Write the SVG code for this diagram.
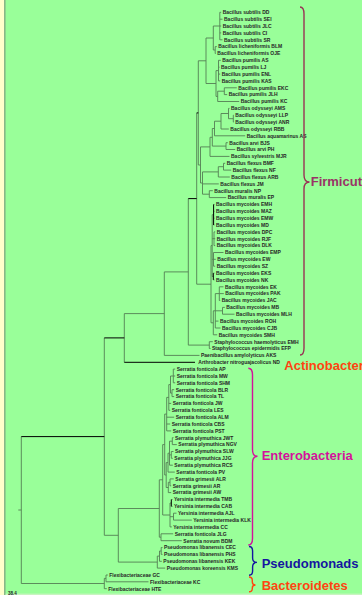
<svg xmlns="http://www.w3.org/2000/svg" width="362" height="595" viewBox="0 0 362 595">
<style>
.br{fill:none;stroke:#557f55;stroke-width:0.9}
.bk{fill:none;stroke:#000;stroke-width:1}
.lf{font-family:"Liberation Sans",Arial,sans-serif;font-weight:bold;font-size:5px;fill:#262626}
.cl{font-family:"Liberation Sans",Arial,sans-serif;font-weight:bold;font-size:13px}
.brace{fill:none;stroke-width:1.4}
</style>
<rect x="0" y="0" width="362" height="595" fill="#99ff99"/>
<rect x="0" y="0" width="4" height="595" fill="#ffffcc"/>
<rect x="4" y="0" width="1.6" height="595" fill="#88b888"/>
<rect x="5.6" y="593.6" width="356.4" height="1.4" fill="#c8f5c0"/>
<g id="connectors">
<path class="br" d="M21.3,436.6V583.5M18.3,510H21.3M21.3,583.5H104.3
M104.3,578.4V588.7M104.3,578.4H106M104.3,588.7H106.8
M106,575V581.8M106,575H107.8M106,581.8H148.5
M104.3,337.9V535.3M104.3,535.3H118.3
M124.3,313.6V362.3M124.3,313.6H164.3
M164.3,271.9V355.4M164.3,355.4H199.5M164.3,271.9H188.3
M188.3,198.6V345.1M188.3,345.1H209.3
M209.3,341.7V348.5M209.3,341.7H212.8M209.3,348.5H210.5
M196.7,112.9V284.2M196.7,284.2H211
M198.3,60.8V165M198.3,60.8H206M198.3,165H200.5
M206,38V83.5M206,38H213.3M206,83.5H216
M213.3,26V50M213.3,26H219.8M213.3,50H215.2
M219.8,12.3V39.8M219.8,12.3H221.2M219.8,19.2H222.5M219.8,26H221.2M219.8,32.9H221.2M219.8,39.8H222.5
M215.2,46.6V53.5M215.2,46.6H216.8M215.2,53.5H215.8
M216,70.6V96.4M216,70.6H218.5M216,96.4H217.7
M218.5,60.3V80.9M218.5,60.3H220.8M218.5,67.2H219.5M218.5,74.1H220.2M218.5,80.9H220.2
M217.7,91.2V101.5M217.7,91.2H224.3M217.7,101.5H239.2
M224.3,87.8V94.6M224.3,87.8H236.8M224.3,94.6H227.2
M200.5,146.9V183M200.5,146.9H210M200.5,183H202.5
M210,137.3V156.4M210,137.3H212.3M210,156.4H229.5
M212.3,128.5V146.1M212.3,128.5H214.5M212.3,146.1H226
M214.5,121.2V135.8M214.5,121.2H221M214.5,135.8H245.2
M221,113.5V129M221,113.5H228.5M221,129H228.8
M228.5,108.4V118.7M228.5,108.4H229.5M228.5,118.7H233.3
M233.3,115.2V122.1M233.3,115.2H233.8M233.3,122.1H233.8
M226,142.7V149.5M226,142.7H227.8M226,149.5H235.2
M202.5,171.9V194.2M202.5,171.9H218.3M202.5,183.9H218.8M202.5,194.2H209.3
M218.3,166.7V177M218.3,166.7H223.5M218.3,177H229.8
M223.5,163.3V170.1M223.5,163.3H225.2M223.5,170.1H231.2
M209.3,190.7V197.6M209.3,190.7H212.8M209.3,197.6H226.2
M211,245.6V322.8M211,245.6H212.2M211,322.8H213.3
M212.2,214.7V276.5M212.2,214.7H213.6M212.2,238.7H214M212.2,259.3H213.5M212.2,276.5H213.3
M213.6,204.4H214.5M213.6,211.3H214.5M213.6,218.2H214.5M213.6,225H214.5
M214,231.9V245.6M214,231.9H215.2M214,238.7H215.2M214,245.6H215.2
M213.5,252.5V266.2M213.5,252.5H223.5M213.5,259.3H215.8M213.5,266.2H215.2
M213.3,273.1H214.5M213.3,279.9H214.5
M213.3,310.8V334.8M213.3,310.8H215.3M213.3,334.8H217.2
M215.3,293.6V328M215.3,293.6H219.3M215.3,310.8H222.5M215.3,321.1H218.5M215.3,328H220.5
M219.3,286.8V300.5M219.3,286.8H223.5M219.3,293.6H223.8M219.3,300.5H220.2
M222.5,307.4V314.2M222.5,307.4H224.8M222.5,314.2H234.5
M118.3,508.5V562.1M118.3,508.5H159.3M118.3,562.1H157.3
M159.3,479.8V537.2M159.3,479.8H162.7M159.3,537.2H161
M161,533.8V540.7M161,533.8H173.2M161,540.7H181.8
M162.7,444.6V515M162.7,444.6H164.7M162.7,515H170
M164.7,414.1V475M164.7,414.1H166.7M164.7,475H166.2
M166.7,397.4V430.9M166.7,397.4H168.8M166.7,417.2H174.2M166.7,424H170.2M166.7,430.9H171.2
M168.8,384.6V410.3M168.8,384.6H170.5M168.8,403.4H171.2M168.8,410.3H170.2
M170.5,376V393.1M170.5,376H173.3M170.5,393.1H172
M173.3,369.1V382.8M173.3,369.1H175.2M173.3,376H175.2M173.3,382.8H175.2
M172,389.7V396.6M172,389.7H174.2M172,396.6H174.2
M166.2,462.6V487.5M166.2,462.6H168M166.2,487.5H168.3
M168,453.2V472.1M168,453.2H169.5M168,472.1H174.8
M169.5,441.2V465.2M169.5,441.2H172.3M169.5,454.9H171.3M169.5,465.2H172.8
M172.3,437.7V444.6M172.3,437.7H173.5M172.3,444.6H176.8
M171.3,451.5V458.3M171.3,451.5H173.5M171.3,458.3H172.8
M168.3,482.3V492.6M168.3,482.3H170M168.3,492.6H171.2
M170,478.9V485.8M170,478.9H173.8M170,485.8H171.2
M170,503V526.9M170,503H171.3M170,516.7H173.5M170,526.9H171.8
M171.3,499.5H172.5M171.3,506.4H172.5
M173.5,513.2V520.1M173.5,513.2H176.5M173.5,520.1H191.8
M157.3,556.1V568.1M157.3,556.1H159.5M157.3,568.1H165.2
M159.5,551V561.3M159.5,551H161.2M159.5,561.3H161.8
M161.2,547.5V554.4M161.2,547.5H162.5M161.2,554.4H162.5"/>
<path class="bk" d="M21.3,436.6H104.3M104.3,337.9H124.3M124.3,362.3H195M188.3,198.6H196.7M196.7,112.9H198.3M213.6,204.4V225M213.3,273.1V279.9M171.3,499.5V506.4"/>
</g>
<g id="leaves">
<g id="n1"><text class="lf" x="222.7" y="14.1">Bacillus subtilis DD</text></g>
<g id="n2"><text class="lf" x="224" y="21">Bacillus subtilis SEI</text></g>
<g id="n3"><text class="lf" x="222.7" y="27.8">Bacillus subtilis JLC</text></g>
<g id="n4"><text class="lf" x="222.7" y="34.7">Bacillus subtilis CI</text></g>
<g id="n5"><text class="lf" x="224" y="41.6">Bacillus subtilis SR</text></g>
<g id="n6"><text class="lf" x="218.3" y="48.4">Bacillus licheniformis BLM</text></g>
<g id="n7"><text class="lf" x="217.3" y="55.3">Bacillus licheniformis OJE</text></g>
<g id="n8"><text class="lf" x="222.3" y="62.1">Bacillus pumilis AS</text></g>
<g id="n9"><text class="lf" x="221" y="69">Bacillus pumilis LJ</text></g>
<g id="n10"><text class="lf" x="221.7" y="75.9">Bacillus pumilis ENL</text></g>
<g id="n11"><text class="lf" x="221.7" y="82.7">Bacillus pumilis KAS</text></g>
<g id="n12"><text class="lf" x="238.3" y="89.6">Bacillus pumilis EKC</text></g>
<g id="n13"><text class="lf" x="228.7" y="96.4">Bacillus pumilis JLH</text></g>
<g id="n14"><text class="lf" x="240.7" y="103.3">Bacillus pumilis KC</text></g>
<g id="n15"><text class="lf" x="231" y="110.2">Bacillus odysseyi AMS</text></g>
<g id="n16"><text class="lf" x="235.3" y="117">Bacillus odysseyi LLP</text></g>
<g id="n17"><text class="lf" x="235.3" y="123.9">Bacillus odysseyi ANR</text></g>
<g id="n18"><text class="lf" x="230.3" y="130.8">Bacillus odysseyi RBB</text></g>
<g id="n19"><text class="lf" x="246.7" y="137.6">Bacillus aquamarinus AS</text></g>
<g id="n20"><text class="lf" x="229.3" y="144.5">Bacillus arvi BJS</text></g>
<g id="n21"><text class="lf" x="236.7" y="151.3">Bacillus arvi PH</text></g>
<g id="n22"><text class="lf" x="231" y="158.2">Bacillus sylvestris MJR</text></g>
<g id="n23"><text class="lf" x="226.7" y="165.1">Bacillus flexus BMF</text></g>
<g id="n24"><text class="lf" x="232.7" y="171.9">Bacillus flexus NF</text></g>
<g id="n25"><text class="lf" x="231.3" y="178.8">Bacillus flexus ARB</text></g>
<g id="n26"><text class="lf" x="220.3" y="185.7">Bacillus flexus JM</text></g>
<g id="n27"><text class="lf" x="214.3" y="192.5">Bacillus muralis NP</text></g>
<g id="n28"><text class="lf" x="227.7" y="199.4">Bacillus muralis EP</text></g>
<g id="n29"><text class="lf" x="216" y="206.2">Bacillus mycoides EMH</text></g>
<g id="n30"><text class="lf" x="216" y="213.1">Bacillus mycoides MAZ</text></g>
<g id="n31"><text class="lf" x="216" y="220">Bacillus mycoides EMW</text></g>
<g id="n32"><text class="lf" x="216" y="226.8">Bacillus mycoides MD</text></g>
<g id="n33"><text class="lf" x="216.7" y="233.7">Bacillus mycoides DPC</text></g>
<g id="n34"><text class="lf" x="216.7" y="240.5">Bacillus mycoides RJF</text></g>
<g id="n35"><text class="lf" x="216.7" y="247.4">Bacillus mycoides DLK</text></g>
<g id="n36"><text class="lf" x="225" y="254.3">Bacillus mycoides EMP</text></g>
<g id="n37"><text class="lf" x="217.3" y="261.1">Bacillus mycoides EW</text></g>
<g id="n38"><text class="lf" x="216.7" y="268">Bacillus mycoides SZ</text></g>
<g id="n39"><text class="lf" x="216" y="274.9">Bacillus mycoides EKS</text></g>
<g id="n40"><text class="lf" x="216" y="281.7">Bacillus mycoides NK</text></g>
<g id="n41"><text class="lf" x="225" y="288.6">Bacillus mycoides EK</text></g>
<g id="n42"><text class="lf" x="225.3" y="295.4">Bacillus mycoides PAK</text></g>
<g id="n43"><text class="lf" x="221.7" y="302.3">Bacillus mycoides JAC</text></g>
<g id="n44"><text class="lf" x="226.3" y="309.2">Bacillus mycoides MB</text></g>
<g id="n45"><text class="lf" x="236" y="316">Bacillus mycoides MLH</text></g>
<g id="n46"><text class="lf" x="220" y="322.9">Bacillus mycoides ROH</text></g>
<g id="n47"><text class="lf" x="222" y="329.8">Bacillus mycoides CJB</text></g>
<g id="n48"><text class="lf" x="218.7" y="336.6">Bacillus mycoides SMH</text></g>
<g id="n49"><text class="lf" x="214.3" y="343.5">Staphylococcus haemolyticus EMH</text></g>
<g id="n50"><text class="lf" x="212" y="350.3">Staphylococcus epidermidis EFP</text></g>
<g id="n51"><text class="lf" x="201" y="357.2">Paenibacillus amylolyticus AKS</text></g>
<g id="n52"><text class="lf" x="198.3" y="364.1">Arthrobacter nitroguajacolicus ND</text></g>
<g id="n53"><text class="lf" x="176.7" y="370.9">Serratia fonticola AP</text></g>
<g id="n54"><text class="lf" x="176.7" y="377.8">Serratia fonticola MW</text></g>
<g id="n55"><text class="lf" x="176.7" y="384.6">Serratia fonticola SHM</text></g>
<g id="n56"><text class="lf" x="175.7" y="391.5">Serratia fonticola BLR</text></g>
<g id="n57"><text class="lf" x="175.7" y="398.4">Serratia fonticola TL</text></g>
<g id="n58"><text class="lf" x="172.7" y="405.2">Serratia fonticola JW</text></g>
<g id="n59"><text class="lf" x="171.7" y="412.1">Serratia fonticola LES</text></g>
<g id="n60"><text class="lf" x="175.7" y="419">Serratia fonticola ALM</text></g>
<g id="n61"><text class="lf" x="171.7" y="425.8">Serratia fonticola CBS</text></g>
<g id="n62"><text class="lf" x="172.7" y="432.7">Serratia fonticola PST</text></g>
<g id="n63"><text class="lf" x="175" y="439.5">Serratia plymuthica JWT</text></g>
<g id="n64"><text class="lf" x="178.3" y="446.4">Serratia plymuthica NGV</text></g>
<g id="n65"><text class="lf" x="175" y="453.3">Serratia plymuthica SLW</text></g>
<g id="n66"><text class="lf" x="174.3" y="460.1">Serratia plymuthica JJG</text></g>
<g id="n67"><text class="lf" x="174.3" y="467">Serratia plymuthica RCS</text></g>
<g id="n68"><text class="lf" x="176.3" y="473.9">Serratia fonticola PV</text></g>
<g id="n69"><text class="lf" x="175.3" y="480.7">Serratia grimesii ALR</text></g>
<g id="n70"><text class="lf" x="172.7" y="487.6">Serratia grimesii AR</text></g>
<g id="n71"><text class="lf" x="172.7" y="494.4">Serratia grimesii AW</text></g>
<g id="n72"><text class="lf" x="174" y="501.3">Yersinia intermedia TMB</text></g>
<g id="n73"><text class="lf" x="174" y="508.2">Yersinia intermedia CAB</text></g>
<g id="n74"><text class="lf" x="178" y="515">Yersinia intermedia AJL</text></g>
<g id="n75"><text class="lf" x="193.3" y="521.9">Yersinia intermedia KLK</text></g>
<g id="n76"><text class="lf" x="173.3" y="528.7">Yersinia intermedia CC</text></g>
<g id="n77"><text class="lf" x="174.7" y="535.6">Serratia fonticola JLG</text></g>
<g id="n78"><text class="lf" x="183.3" y="542.5">Serratia novum BDM</text></g>
<g id="n79"><text class="lf" x="164" y="549.3">Pseudomonas libanensis CEC</text></g>
<g id="n80"><text class="lf" x="164" y="556.2">Pseudomonas libanensis PHS</text></g>
<g id="n81"><text class="lf" x="163.3" y="563.1">Pseudomonas libanensis KEK</text></g>
<g id="n82"><text class="lf" x="166.7" y="569.9">Pseudomonas koreensis KMS</text></g>
<g id="n83"><text class="lf" x="109.3" y="576.8">Flexibacteriaceae GC</text></g>
<g id="n84"><text class="lf" x="150" y="583.6">Flexibacteriaceae KC</text></g>
<g id="n85"><text class="lf" x="108.3" y="590.5">Flexibacteriaceae HTE</text></g>
</g>
<g id="clade-firmicutes">
<path class="brace" stroke="#993355" d="M300,7Q304,7 304,14V175Q304,182 309.5,182Q304,182 304,189V348Q304,355 300,355"/>
<text class="cl" x="310.7" y="185.7" fill="#993366">Firmicutes</text>
</g>
<g id="clade-actinobacteria">
<text class="cl" x="284.3" y="370.3" fill="#ff4411">Actinobacteria</text>
</g>
<g id="clade-enterobacteria">
<path class="brace" stroke="#d4119b" d="M248.3,368.3Q252.5,368.3 252.5,375V449.5Q252.5,456.3 257.5,456.3Q252.5,456.3 252.5,463V538.5Q252.5,545 248.3,545"/>
<text class="cl" x="261.7" y="460.3" fill="#d4119b">Enterobacteria</text>
</g>
<g id="clade-pseudomonads">
<path class="brace" stroke="#1515a0" d="M249,546.5Q252.6,546.5 252.6,551V558Q252.6,562.4 257,562.4Q252.6,562.4 252.6,567V571Q252.6,575.2 249,575.2"/>
<text class="cl" x="261.7" y="567.8" fill="#1515a0">Pseudomonads</text>
</g>
<g id="clade-bacteroidetes">
<path class="brace" stroke="#ff4411" d="M249,577Q252.3,577 252.3,580.5V582Q252.3,585 255.5,585Q252.3,585 252.3,588V588.5Q252.3,591.8 249,591.8"/>
<text class="cl" x="261.7" y="589.8" fill="#ff4411">Bacteroidetes</text>
</g>
<text class="lf" x="8" y="595" style="font-size:4.5px">38.4</text>
</svg>
